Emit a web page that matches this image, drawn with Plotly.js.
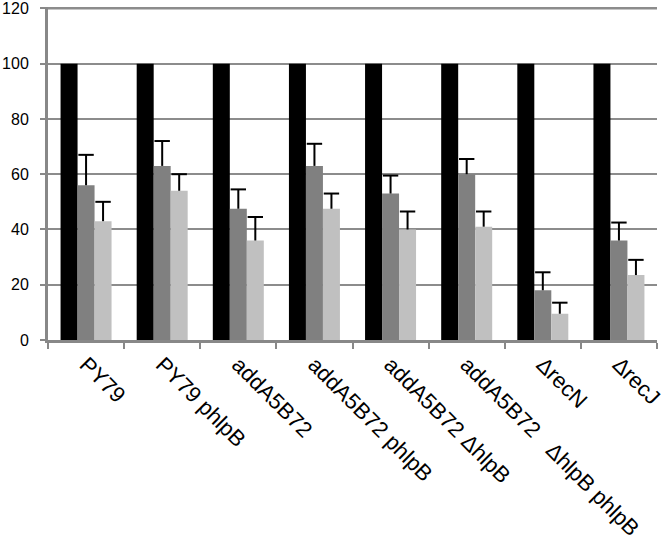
<!DOCTYPE html>
<html>
<head>
<meta charset="utf-8">
<script src="https://cdn.plot.ly/plotly-3.0.1.min.js"></script>
<style>html,body{margin:0;padding:0;background:#fff;}#chart{width:666px;height:541px;}</style>
</head>
<body>
<div id="chart"></div>
<script>
var NB = "\u00A0";
var categories = ["PY79", "PY79 phlpB", "addA5B72", "addA5B72 phlpB", "addA5B72 \u0394hlpB",
  "addA5B72" + NB + NB + NB + "\u0394hlpB phlpB", "\u0394recN", "\u0394recJ"];
var series1 = [100, 100, 100, 100, 100, 100, 100, 100];
var series2 = [56, 63, 47.5, 63, 53, 60, 18, 36];
var series2Err = [11, 9, 7, 8, 6.5, 5.5, 6.5, 6.5];
var series3 = [43, 54, 36, 47.5, 40, 41, 9.5, 23.5];
var series3Err = [7, 6, 8.5, 5.5, 6.5, 5.5, 4, 5.5];
var yTicks = [0, 20, 40, 60, 80, 100, 120];
var yMax = 120;
var zeros = series1.map(function () { return 0; });

var BARGAP = 0.33;
var barW = (1 - BARGAP) / 3;

// stems only (no caps) from the bar library error bars
function stem(arr) {
  return {type: "data", symmetric: false, array: arr, arrayminus: zeros,
          color: "#000", thickness: 2, width: 0, visible: true};
}

var idx = categories.map(function (c, i) { return i; });
function capTrace(vals, errs, slot) {
  return {
    type: "scatter", mode: "markers", xaxis: "x2", yaxis: "y",
    x: idx.map(function (i) { return i + slot * barW; }),
    y: vals.map(function (v, i) { return v + errs[i]; }),
    marker: {symbol: "line-ew", size: 11, line: {color: "#000", width: 2}},
    hoverinfo: "skip", cliponaxis: false
  };
}

var traces = [
  {type: "bar", x: categories, y: series1, marker: {color: "#000000"}},
  {type: "bar", x: categories, y: series2, marker: {color: "#808080"}, error_y: stem(series2Err)},
  {type: "bar", x: categories, y: series3, marker: {color: "#c0c0c0"}, error_y: stem(series3Err)},
  capTrace(series2, series2Err, 0),
  capTrace(series3, series3Err, 1)
];

var layout = {
  width: 666, height: 541,
  margin: {l: 48, r: 9, t: 7, b: 201},
  paper_bgcolor: "#fff", plot_bgcolor: "#fff",
  barmode: "group", bargap: BARGAP, bargroupgap: 0,
  showlegend: false,
  font: {family: "Liberation Sans, Arial, sans-serif", color: "#000", size: 16},
  xaxis: {
    type: "category", range: [-0.5, categories.length - 0.5],
    tickangle: 45, tickson: "boundaries",
    ticks: "outside", ticklen: 6, tickwidth: 2, tickcolor: "#888",
    showline: true, linecolor: "#888", linewidth: 3,
    showgrid: false, zeroline: false,
    tickfont: {size: 22, color: "#000"}
  },
  xaxis2: {
    overlaying: "x", range: [-0.5, categories.length - 0.5],
    visible: false, showgrid: false, zeroline: false
  },
  yaxis: {
    range: [0, 120.5], tickmode: "array", tickvals: yTicks,
    ticktext: yTicks.map(String), ticklabeloverflow: "allow",
    ticks: "outside", ticklen: 5, tickwidth: 2, tickcolor: "#888",
    showline: true, linecolor: "#888", linewidth: 3,
    showgrid: true, gridcolor: "#8c8c8c", gridwidth: 2,
    zeroline: false, ticklabelstandoff: 8,
    tickfont: {size: 16, color: "#000"}
  },
  shapes: [{
    type: "line", xref: "paper", yref: "y", x0: 0, x1: 1, y0: yMax, y1: yMax,
    line: {color: "#8c8c8c", width: 2}, layer: "below"
  }]
};

Plotly.newPlot("chart", traces, layout, {displayModeBar: false, staticPlot: true});
</script>
</body>
</html>
